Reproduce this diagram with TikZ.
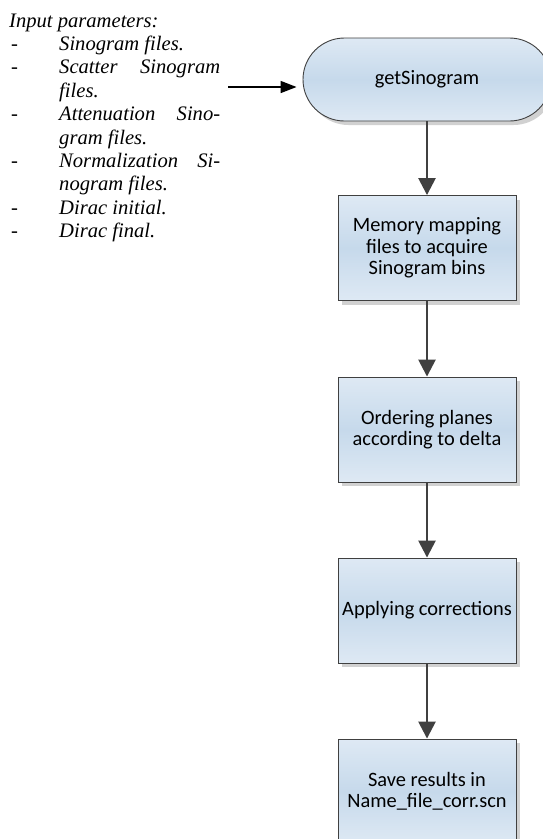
\documentclass[tikz,border=0pt]{standalone}
\usepackage{fontspec}
\setmainfont{Liberation Serif}
\newfontfamily\calibri{Carlito}
\usetikzlibrary{arrows.meta,shadows}
\definecolor{boxtop}{RGB}{222,233,244}
\definecolor{boxmid}{RGB}{198,217,235}
\definecolor{edgegray}{RGB}{64,64,64}
\definecolor{arrowgray}{RGB}{64,64,64}
\tikzset{
  shape3d/.style={draw=edgegray, line width=0.9pt, top color=boxtop, bottom color=boxtop, middle color=boxmid,
    drop shadow={shadow xshift=4pt, shadow yshift=-4pt, fill=black!18, opacity=1},
    font=\calibri\fontsize{20.4}{21.5}\selectfont, align=center, text=black, inner sep=0pt},
  procbox/.style={shape3d, rectangle, minimum width=178pt, minimum height=105pt},
  termbox/.style={shape3d, rectangle, rounded corners=41.5pt, minimum width=248pt, minimum height=83pt},
  flowconn/.style={draw=arrowgray, line width=2.6pt, -{Triangle[width=17pt,length=17pt]}, fill=arrowgray},
  inconn/.style={draw=black, line width=1.6pt, -{Triangle[width=12pt,length=16pt]}, shorten >=6pt},
  lefttext/.style={anchor=base west, inner sep=0pt, font=\fontsize{20.6}{23}\selectfont\itshape}
}
\begin{document}
\begin{tikzpicture}[x=1pt,y=-1pt]
\useasboundingbox (0,0) rectangle (543,839);
\clip (0,0) rectangle (543,839);
\fill[white] (0,0) rectangle (543,839);

% left text
\node[lefttext] (ip) at (9,27) {Input parameters:};
\foreach \k/\t in {1/{Sinogram files.},3/{files.},5/{gram files.},7/{nogram files.},8/{Dirac initial.},9/{Dirac final.}}{
  \node[lefttext] (l\k) at (59,27+23.4*\k) {\t};
}
\node[lefttext] (l2) at (59,27+23.4*2) {\hbox to 161pt{Scatter\hfill Sinogram}};
\node[lefttext] (l4) at (59,27+23.4*4) {\hbox to 161pt{Attenuation\hfill Sino-}};
\node[lefttext] (l6) at (59,27+23.4*6) {\hbox to 161pt{Normalization\hfill Si-}};
\foreach \k in {1,2,4,6,8,9}{
  \node[lefttext, font=\fontsize{20.6}{23}\selectfont] (d\k) at (11,27+23.4*\k) {-};
}

% flowchart
\node[termbox] (t) at (427,79.5) {getSinogram};
\node[procbox] (b1) at (427,248) {Memory mapping\\files to acquire\\Sinogram bins};
\node[procbox] (b2) at (427,429.5) {Ordering planes\\according to delta};
\node[procbox] (b3) at (427,610.5) {Applying corrections};
\node[procbox] (b4) at (427,791.5) {Save results in\\Name\_file\_corr.scn};

\draw[flowconn] (t) -- (b1);
\draw[flowconn] (b1) -- (b2);
\draw[flowconn] (b2) -- (b3);
\draw[flowconn] (b3) -- (b4);

\coordinate (inA) at (228,87);
\draw[inconn] (inA) -- (t.west |- inA);
\end{tikzpicture}
\end{document}
